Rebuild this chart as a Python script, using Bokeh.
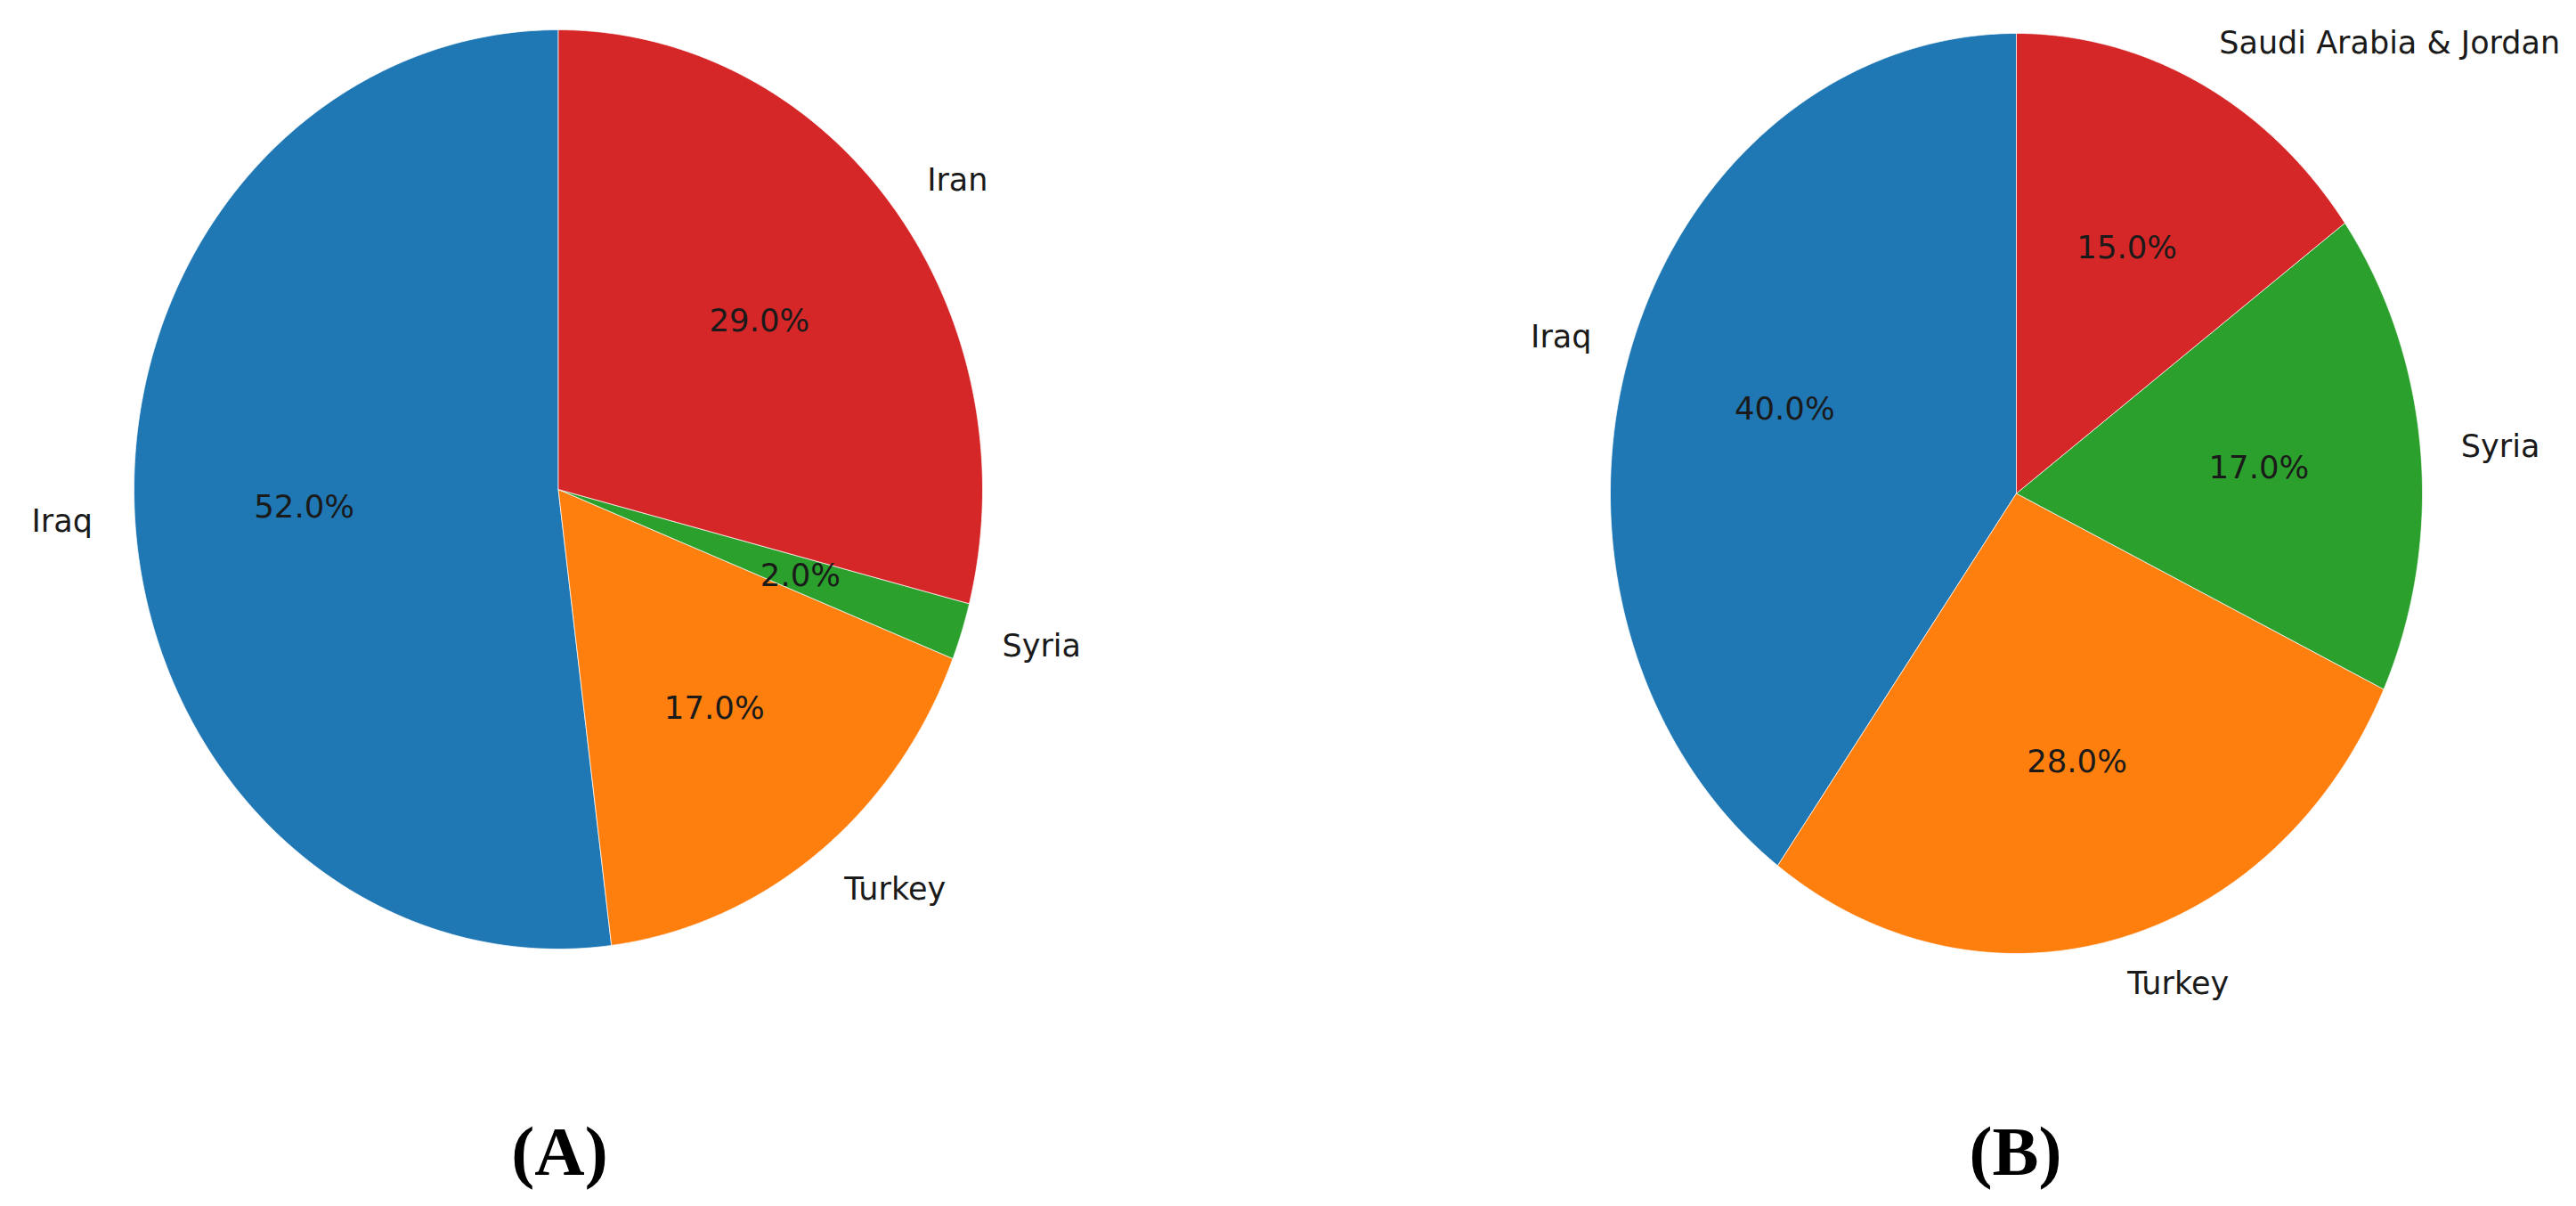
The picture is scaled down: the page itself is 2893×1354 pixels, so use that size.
import numpy as np
from bokeh.plotting import figure
from bokeh.models import Range1d, ColumnDataSource
from bokeh.core.properties import value
from bokeh.embed import file_html
from bokeh.resources import INLINE

# ---- data ----
labels_a = ["Iraq", "Turkey", "Syria", "Iran"]
values_a = [52.0, 17.0, 2.0, 29.0]
labels_b = ["Iraq", "Turkey", "Syria", "Saudi Arabia & Jordan"]
values_b = [40.0, 28.0, 17.0, 15.0]
colors = ["#1f77b4", "#ff7f0e", "#2ca02c", "#d62728"]
panel_titles = ["(A)", "(B)"]

W, H = 2877, 1338
OFF = 0
p = figure(width=W, height=H, output_backend="svg", toolbar_location=None,
           x_range=Range1d(OFF, OFF + W), y_range=Range1d(OFF + H, OFF),
           min_border=0, outline_line_color=None, background_fill_color="white")
p.axis.visible = False
p.grid.visible = False

font = value("DejaVu Sans")


def draw_pie(labels, values, cx, cy, rx, ry):
    vals = np.array(values, dtype=float)
    frac = vals / vals.sum()
    edges = 90.0 + 360.0 * np.concatenate([[0.0], np.cumsum(frac)])
    xs, ys = [], []
    for a0, a1 in zip(edges[:-1], edges[1:]):
        t = np.radians(np.linspace(a0, a1, 200))
        xs.append(np.concatenate([[cx], cx + rx * np.cos(t), [cx]]))
        ys.append(np.concatenate([[cy], cy - ry * np.sin(t), [cy]]))
    p.patches(xs=xs, ys=ys, fill_color=colors[:len(vals)],
              line_color="white", line_width=1.0, line_alpha=0.7)
    mid = np.radians((edges[:-1] + edges[1:]) / 2)
    lx = cx + 1.1 * rx * np.cos(mid)
    ly = cy - 1.1 * ry * np.sin(mid)
    align = ["left" if np.cos(m) > 0 else "right" for m in mid]
    src = ColumnDataSource(dict(x=lx, y=ly, t=labels, a=align))
    p.text(x="x", y="y", text="t", text_align="a", source=src,
           text_baseline="middle", text_font=font, text_font_size="35px",
           text_color="#1a1a1a")
    px = cx + 0.6 * rx * np.cos(mid)
    py = cy - 0.6 * ry * np.sin(mid)
    pct = ["%.1f%%" % (100 * f) for f in frac]
    p.text(x=px, y=py, text=pct, text_align="center",
           text_baseline="middle", text_font=font, text_font_size="35.5px",
           text_color="#1a1a1a")


draw_pie(labels_a, values_a, 626.5, 549.0, 476.5, 516.0)
draw_pie(labels_b, values_b, 2264.0, 553.5, 456.0, 516.5)

p.text(x=[628, 2263], y=[1292, 1292], text=panel_titles, text_align="center",
       text_baseline="middle", text_font=value("Liberation Serif"),
       text_font_style="bold", text_font_size="78px", text_color="black")

open("out.html", "w").write(file_html(p, INLINE))
